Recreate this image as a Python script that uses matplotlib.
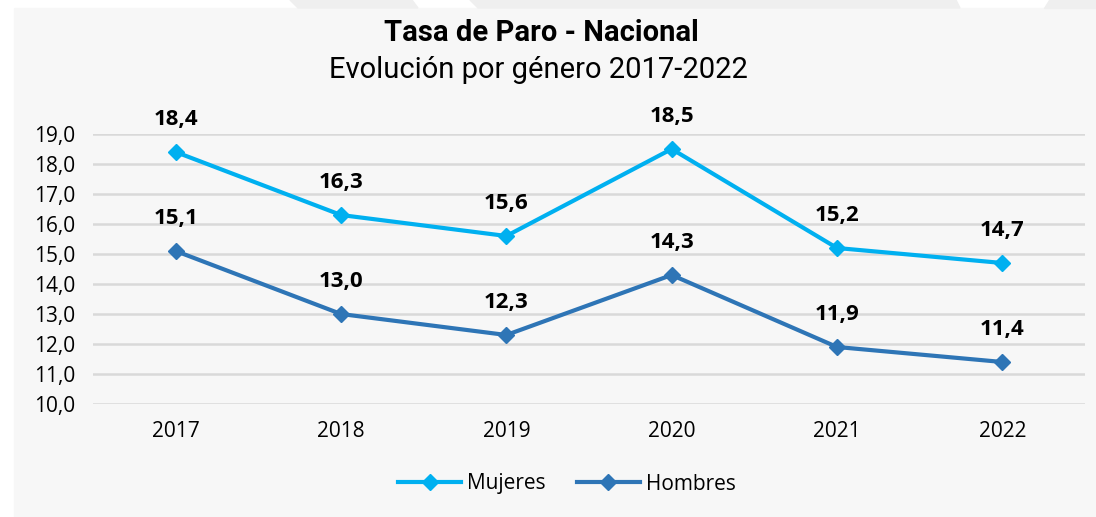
import matplotlib.pyplot as plt
from matplotlib.patches import Rectangle, Polygon
from matplotlib import font_manager

years = ['2017', '2018', '2019', '2020', '2021', '2022']
mujeres = [18.4, 16.3, 15.6, 18.5, 15.2, 14.7]
hombres = [15.1, 13.0, 12.3, 14.3, 11.9, 11.4]
yticks = [10, 11, 12, 13, 14, 15, 16, 17, 18, 19]

c_muj = '#00b0f0'
c_hom = '#2e75b6'

names = {f.name for f in font_manager.fontManager.ttflist}
narrow = 'Liberation Sans Narrow' if 'Liberation Sans Narrow' in names else 'Roboto'
plt.rcParams['font.family'] = ['Open Sans', 'DejaVu Sans']

W, H = 1096, 517
fig = plt.figure(figsize=(W / 100, H / 100), dpi=100, facecolor='white')

# background panel and top strip
fig.patches.append(Rectangle((14 / W, 0), 1 - 14 / W, 1 - 8 / H, transform=fig.transFigure,
                             color='#f7f7f7', zorder=-10))
for pts in [[(290, 0), (412, 0), (418, 8), (298, 8)],
            [(470, 0), (956, 0), (960, 8), (478, 8)],
            [(1049, 0), (1096, 0), (1096, 8), (1044, 8)]]:
    fig.patches.append(Polygon([(x / W, 1 - y / H) for x, y in pts], closed=True,
                               transform=fig.transFigure, color='#efefef', zorder=-10))

ax = fig.add_axes([93 / W, 1 - 404 / H, (1085 - 93) / W, 270 / H])
ax.set_facecolor('none')
x = range(len(years))
ax.plot(x, mujeres, color=c_muj, lw=3, marker='D', ms=8, label='Mujeres', zorder=3)
ax.plot(x, hombres, color=c_hom, lw=3, marker='D', ms=8, label='Hombres', zorder=3)

for i in x:
    for vals in (mujeres, hombres):
        ax.annotate(f'{vals[i]:.1f}'.replace('.', ','), (i, vals[i]), xytext=(0, 16),
                    textcoords='offset points', ha='center', va='bottom', fontsize=16,
                    fontweight='bold', annotation_clip=False)

ax.set_xlim(-0.5, 5.5)
ax.set_ylim(10, 19)
ax.set_yticks(yticks)
ax.set_yticklabels([f'{v:.1f}'.replace('.', ',') for v in yticks], fontsize=15)
ax.set_xticks(list(x))
ax.set_xticklabels(years, fontsize=15)
ax.tick_params(length=0)
ax.tick_params(axis='x', pad=12)
ax.tick_params(axis='y', pad=13)
ax.grid(axis='y', color='#d9d9d9', lw=1.8)
ax.set_axisbelow(True)
for s in ax.spines.values():
    s.set_visible(False)

fig.text(541 / W, 1 - 33 / H, 'Tasa de Paro - Nacional', ha='center', va='center',
         fontsize=21, fontweight='bold', family=narrow)
fig.text(538 / W, 1 - 70 / H, 'Evolución por género 2017-2022', ha='center', va='center',
         fontsize=21, family=narrow)

fig.legend(loc='center', bbox_to_anchor=(567 / W, 1 - 484 / H), ncol=2, frameon=False,
           fontsize=15, handlelength=3, columnspacing=1.5, handletextpad=0.3)

fig.savefig('out.png', dpi=100, facecolor=fig.get_facecolor())
